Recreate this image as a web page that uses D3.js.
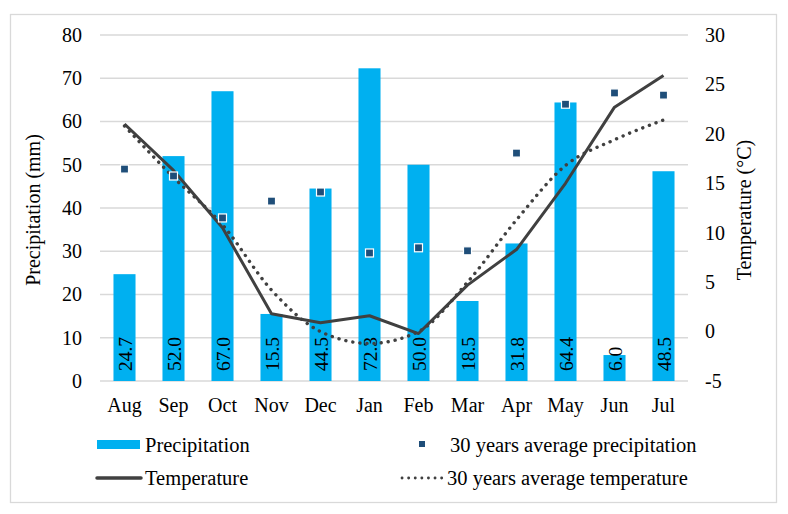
<!DOCTYPE html>
<html lang="en">
  <head>
    <meta charset="UTF-8" />
    <title>Precipitation and Temperature</title>
    <script src="https://d3js.org/d3.v7.min.js"></script>
    <style>
      body {
        margin: 0;
        background: #fff;
      }
      svg {
        font-family: "Liberation Serif", "Times New Roman", serif;
      }
      svg text {
        fill: #000;
      }
      .grid line {
        stroke: #d9d9d9;
        stroke-width: 1.3px;
      }
    </style>
  </head>
  <body>
    <svg id="chart" width="788" height="514"></svg>

    <script>
      const months = ["Aug", "Sep", "Oct", "Nov", "Dec", "Jan", "Feb", "Mar", "Apr", "May", "Jun", "Jul"];
      const precipitation = [24.7, 52.0, 67.0, 15.5, 44.5, 72.3, 50.0, 18.5, 31.8, 64.4, 6.0, 48.5];
      const avgPrecipitation = [49.0, 47.4, 37.7, 41.6, 43.7, 29.6, 30.8, 30.1, 52.7, 64.0, 66.6, 66.1];
      const temperature = [21.0, 16.3, 10.5, 1.8, 0.9, 1.6, -0.2, 4.7, 8.3, 15.0, 22.7, 25.9];
      const avgTemperature = [20.8, 15.6, 10.8, 4.2, 0.0, -1.2, 0.0, 5.0, 11.3, 16.8, 19.4, 21.4];
      const precipTicks = [0, 10, 20, 30, 40, 50, 60, 70, 80];
      const tempTicks = [-5, 0, 5, 10, 15, 20, 25, 30];

      const margin = { top: 35, right: 100, bottom: 133, left: 100 };
      const width = 788;
      const height = 514;
      const fontFamily = "Liberation Serif";

      const svg = d3.select("#chart");

      // outer chart border
      svg.append("rect")
        .attr("x", 10.5).attr("y", 14.5)
        .attr("width", 766).attr("height", 488)
        .attr("fill", "none")
        .attr("stroke", "#d9d9d9")
        .attr("stroke-width", 1.3);

      const x = d3.scaleBand()
        .domain(months)
        .range([margin.left, width - margin.right])
        .paddingInner(0.55)
        .paddingOuter(0.275);

      const yP = d3.scaleLinear().domain([0, 80]).range([height - margin.bottom, margin.top]);
      const yT = d3.scaleLinear().domain([-5, 30]).range([height - margin.bottom, margin.top]);

      // gridlines
      svg.append("g")
        .attr("class", "grid")
        .selectAll("line")
        .data(precipTicks)
        .join("line")
        .attr("x1", margin.left)
        .attr("x2", width - margin.right)
        .attr("y1", (d) => yP(d))
        .attr("y2", (d) => yP(d));

      // left axis
      const leftAxis = svg.append("g")
        .attr("transform", `translate(${margin.left}, 0)`)
        .call(d3.axisLeft(yP).tickValues(precipTicks).tickSize(0).tickPadding(18));
      leftAxis.select(".domain").remove();
      leftAxis.attr("font-family", fontFamily).attr("font-size", 20);

      // right axis
      const rightAxis = svg.append("g")
        .attr("transform", `translate(${width - margin.right}, 0)`)
        .call(d3.axisRight(yT).tickValues(tempTicks).tickSize(0).tickPadding(17)
          .tickFormat((d) => (d < 0 ? "-" + Math.abs(d) : d)));
      rightAxis.select(".domain").remove();
      rightAxis.attr("font-family", fontFamily).attr("font-size", 20);

      // bottom axis
      const bottomAxis = svg.append("g")
        .attr("transform", `translate(0, ${height - margin.bottom})`)
        .call(d3.axisBottom(x).tickSize(0).tickPadding(17));
      bottomAxis.select(".domain").remove();
      bottomAxis.attr("font-family", fontFamily).attr("font-size", 20);

      // axis titles
      svg.append("text")
        .attr("transform", `translate(40, 210) rotate(-90)`)
        .attr("text-anchor", "middle")
        .attr("font-size", 20)
        .text("Precipitation (mm)");

      svg.append("text")
        .attr("transform", `translate(751, 210) rotate(-90)`)
        .attr("text-anchor", "middle")
        .attr("font-size", 20)
        .text("Temperature (°C)");

      // bars
      svg.append("g")
        .selectAll("rect")
        .data(precipitation)
        .join("rect")
        .attr("x", (d, i) => x(months[i]))
        .attr("y", (d) => yP(d))
        .attr("width", x.bandwidth())
        .attr("height", (d) => yP(0) - yP(d))
        .attr("fill", "#00b0f0");

      // bar labels
      svg.append("g")
        .selectAll("text")
        .data(precipitation)
        .join("text")
        .attr("transform", (d, i) => `translate(${x(months[i]) + x.bandwidth() / 2 + 7}, ${yP(0) - 10}) rotate(-90)`)
        .attr("font-size", 19.5)
        .text((d) => d.toFixed(1));

      const cx = (i) => x(months[i]) + x.bandwidth() / 2;

      // avg temperature dotted
      svg.append("path")
        .datum(avgTemperature)
        .attr("fill", "none")
        .attr("stroke", "#404040")
        .attr("stroke-width", 3.4)
        .attr("stroke-linecap", "round")
        .attr("stroke-dasharray", "0.1 7")
        .attr("d", d3.line().x((d, i) => cx(i)).y((d) => yT(d)).curve(d3.curveMonotoneX));

      // temperature line
      svg.append("path")
        .datum(temperature)
        .attr("fill", "none")
        .attr("stroke", "#404040")
        .attr("stroke-width", 3)
        .attr("stroke-linejoin", "round")
        .attr("d", d3.line().x((d, i) => cx(i)).y((d) => yT(d)));

      // avg precipitation markers
      svg.append("g")
        .selectAll("rect")
        .data(avgPrecipitation)
        .join("rect")
        .attr("x", (d, i) => cx(i) - 4)
        .attr("y", (d) => yP(d) - 4)
        .attr("width", 8)
        .attr("height", 8)
        .attr("fill", "#1f4e79")
        .attr("stroke", "#fff")
        .attr("stroke-width", 1.2);

      // legend
      const legend = svg.append("g").attr("font-size", 20.5);
      legend.append("rect")
        .attr("x", 97).attr("y", 440).attr("width", 43).attr("height", 9)
        .attr("fill", "#00b0f0");
      legend.append("text").attr("x", 145).attr("y", 452).text("Precipitation");

      legend.append("line")
        .attr("x1", 97).attr("x2", 141).attr("y1", 478).attr("y2", 478)
        .attr("stroke", "#404040").attr("stroke-width", 3.5).attr("stroke-linecap", "round");
      legend.append("text").attr("x", 145).attr("y", 485).text("Temperature");

      legend.append("rect")
        .attr("x", 419).attr("y", 441).attr("width", 6).attr("height", 6)
        .attr("fill", "#1f4e79");
      legend.append("text").attr("x", 450).attr("y", 452).text("30 years average precipitation");

      legend.append("line")
        .attr("x1", 402).attr("x2", 442).attr("y1", 478).attr("y2", 478)
        .attr("stroke", "#404040").attr("stroke-width", 2.8)
        .attr("stroke-linecap", "round").attr("stroke-dasharray", "0.1 6.5");
      legend.append("text").attr("x", 447).attr("y", 485).text("30 years average temperature");
    </script>
  </body>
</html>
